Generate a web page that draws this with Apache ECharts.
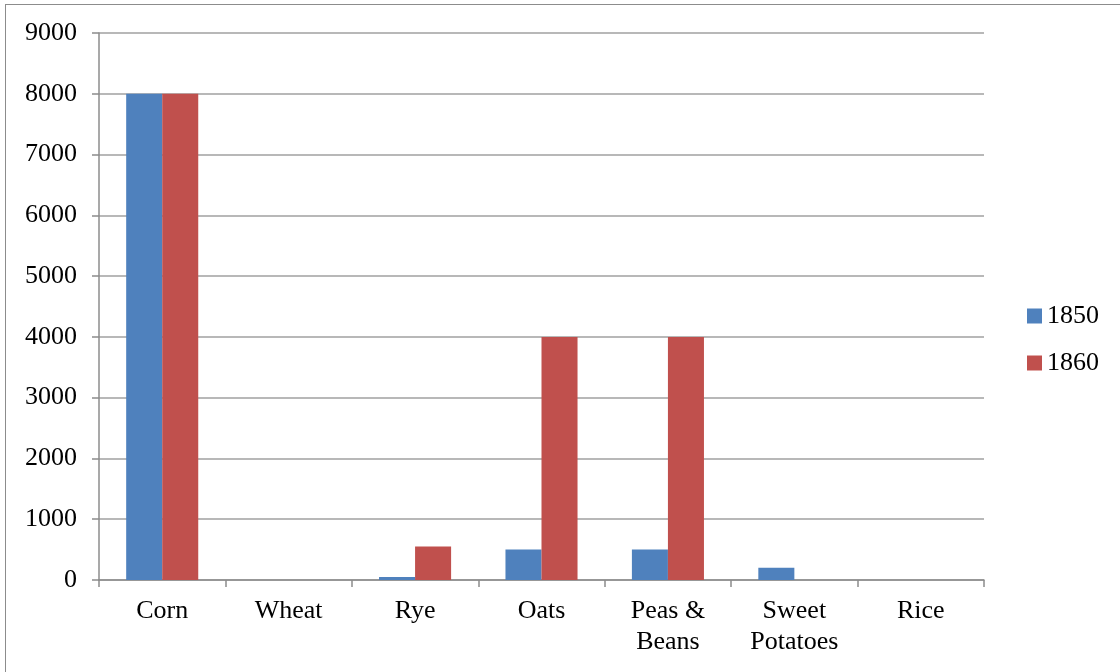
<!DOCTYPE html>
<html>
<head>
<meta charset="utf-8">
<script src="https://cdn.jsdelivr.net/npm/echarts@6/dist/echarts.min.js"></script>
<style>
  html, body { margin: 0; padding: 0; background: #fff; }
  #frame { position: absolute; left: 5px; top: 4px; width: 1120px; height: 672px; border: 1.5px solid #8c8c8c; box-sizing: border-box; }
  #main { position: absolute; left: 0; top: 0; width: 1120px; height: 672px; }
</style>
</head>
<body>
<div id="frame"></div>
<div id="main"></div>
<script>
const categories = ['Corn', 'Wheat', 'Rye', 'Oats', 'Peas &\nBeans', 'Sweet\nPotatoes', 'Rice'];
const values1850 = [8000, 0, 50, 500, 500, 200, 0];
const values1860 = [8000, 0, 550, 4000, 4000, 0, 0];

const myChart = echarts.init(document.querySelector('#main'));

const font = 'Liberation Serif, Times New Roman, serif';
const axisGrey = '#8c8c8c';

const option = {
  animation: false,
  textStyle: { fontFamily: font },
  grid: { left: 99, right: 136, top: 33, bottom: 92 },
  legend: {
    orient: 'vertical',
    right: 16,
    top: 298,
    itemWidth: 15,
    itemHeight: 15,
    itemGap: 21,
    icon: 'rect',
    textStyle: { color: '#000', fontSize: 26, fontFamily: font, padding: [0, 0, 0, 0] },
    data: ['1850', '1860']
  },
  xAxis: {
    type: 'category',
    data: categories,
    axisLine: { lineStyle: { color: axisGrey, width: 1.5 } },
    axisTick: { show: true, length: 7, lineStyle: { color: axisGrey, width: 1.5 } },
    axisLabel: { color: '#000', fontSize: 26, fontFamily: font, margin: 16, lineHeight: 31, interval: 0 }
  },
  yAxis: {
    type: 'value',
    min: 0,
    max: 9000,
    interval: 1000,
    axisLine: { show: true, lineStyle: { color: axisGrey, width: 1.5 } },
    axisTick: { show: true, length: 7, lineStyle: { color: axisGrey, width: 1.5 } },
    axisLabel: { color: '#000', fontSize: 26, fontFamily: font, margin: 22, formatter: v => String(v) },
    splitLine: { lineStyle: { color: '#a0a0a0', width: 1.5 } }
  },
  series: [
    {
      name: '1850',
      type: 'bar',
      data: values1850,
      barGap: '0%',
      barCategoryGap: '43%',
      itemStyle: { color: '#4f81bd' }
    },
    {
      name: '1860',
      type: 'bar',
      data: values1860,
      itemStyle: { color: '#c0504d' }
    }
  ]
};

myChart.setOption(option);
</script>
</body>
</html>
